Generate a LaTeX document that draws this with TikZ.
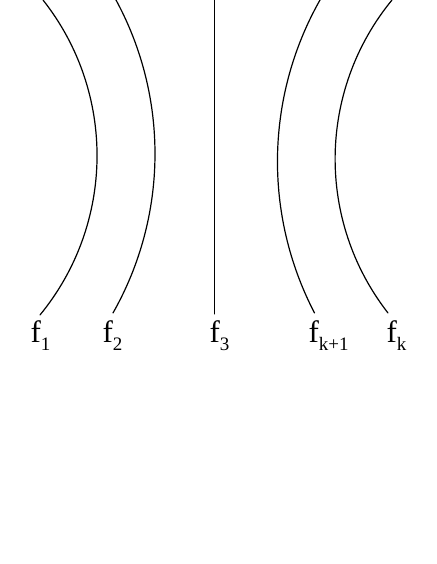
\documentclass[tikz,border=0pt]{standalone}
\usepackage{fontspec}
\setmainfont{Liberation Serif}
\usetikzlibrary{positioning}

\newcommand{\flabel}[1]{f\raisebox{-8pt}{\fontsize{19}{19}\selectfont #1}}

\begin{document}
\begin{tikzpicture}[x=1pt, y=1pt, line cap=round, line join=round, line width=1.2pt,
    lbl/.style={anchor=base west, inner sep=0pt, font=\fontsize{31}{31}\selectfont}]

    % geometry (points, y going down)
    \def\yBot{-314}   % lower end of the middle line
    \def\yLbl{-342}   % label baseline

    % frame
    \useasboundingbox (0,0) rectangle (436,-564);

    % upper ends of the curves
    \coordinate (A1) at (43,0);
    \coordinate (A2) at (116,0);
    \coordinate (A3) at (214.5,0);
    \coordinate (A4) at (320,0);
    \coordinate (A5) at (392,0);
    \coordinate (B3) at (214.5,\yBot);

    % left curves (circle arcs, bulge right)
    \draw (A1) arc[start angle=38.3, end angle=-39.4, radius=251.1pt];
    \draw (A2) arc[start angle=28.46, end angle=-29.56, radius=322.7pt];

    % middle line
    \draw[line width=1pt] (A3) -- (B3);

    % right curves (circle arcs, bulge left)
    \draw (A4) arc[start angle=150.49, end angle=207.5, radius=327.95pt];
    \draw (A5) arc[start angle=140.62, end angle=217.92, radius=250.6pt];

    % labels
    \node[lbl] (l1) at (30,\yLbl)  {\flabel{1}};
    \node[lbl] (l2) at (102,\yLbl) {\flabel{2}};
    \node[lbl] (l3) at (209,\yLbl) {\flabel{3}};
    \node[lbl] (l4) at (308,\yLbl) {\flabel{k+1}};
    \node[lbl] (l5) at (386,\yLbl) {\flabel{k}};

\end{tikzpicture}
\end{document}
